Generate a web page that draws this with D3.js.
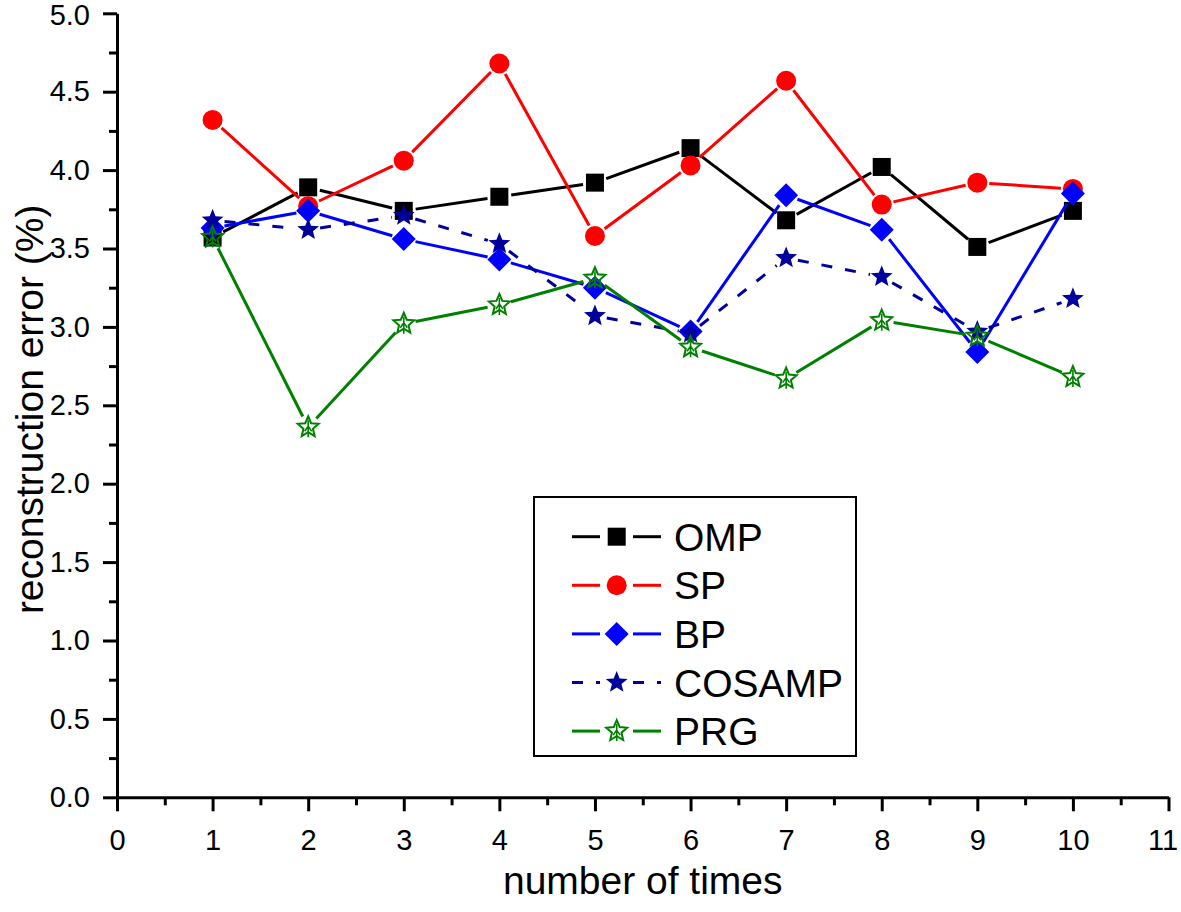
<!DOCTYPE html>
<html>
<head>
<meta charset="utf-8">
<script src="https://cdn.jsdelivr.net/npm/d3@7"></script>
<style>
  html, body { margin: 0; padding: 0; background: #fff; }
  svg { display: block; font-family: "Liberation Sans", Arial, sans-serif; }
</style>
</head>
<body>
<svg id="chart" width="1181" height="912"></svg>
<script>
const xValues = [1, 2, 3, 4, 5, 6, 7, 8, 9, 10];
const ompValues = [3.57, 3.89, 3.74, 3.83, 3.92, 4.14, 3.68, 4.02, 3.51, 3.74];
const spValues = [4.32, 3.77, 4.06, 4.68, 3.58, 4.03, 4.57, 3.78, 3.92, 3.88];
const bpValues = [3.63, 3.74, 3.56, 3.43, 3.25, 2.97, 3.84, 3.62, 2.84, 3.85];
const cosampValues = [3.68, 3.62, 3.71, 3.53, 3.07, 2.96, 3.44, 3.32, 2.97, 3.18];
const prgValues = [3.57, 2.36, 3.02, 3.14, 3.31, 2.87, 2.67, 3.04, 2.94, 2.68];
const seriesNames = ["OMP", "SP", "BP", "COSAMP", "PRG"];
const xTickValues = [0, 1, 2, 3, 4, 5, 6, 7, 8, 9, 10, 11];
const yTickValues = [0, 0.5, 1, 1.5, 2, 2.5, 3, 3.5, 4, 4.5, 5];

const series = [
  { name: seriesNames[0], values: ompValues, color: "#000000", marker: "square", dash: null },
  { name: seriesNames[1], values: spValues, color: "#ff0000", marker: "circle", dash: null },
  { name: seriesNames[2], values: bpValues, color: "#0000ff", marker: "diamond", dash: null },
  { name: seriesNames[3], values: cosampValues, color: "#00009c", marker: "star", dash: "11,13" },
  { name: seriesNames[4], values: prgValues, color: "#008000", marker: "openstar", dash: null }
];

const svg = d3.select("#chart");
const x = d3.scaleLinear().domain([0, 11]).range([117, 1168.5]);
const y = d3.scaleLinear().domain([0, 5]).range([797.3, 13.3]);

// Minor ticks
const xMinor = d3.range(0.5, 11, 1);
const yMinor = d3.range(0.25, 5, 0.5);

svg.append("g")
  .attr("transform", `translate(0,${y(0)})`)
  .call(d3.axisBottom(x).tickValues(xMinor).tickFormat("").tickSize(8).tickSizeOuter(0))
  .call(g => g.select(".domain").remove())
  .selectAll("line").attr("stroke", "#000").attr("stroke-width", 3);

svg.append("g")
  .attr("transform", `translate(${x(0)},0)`)
  .call(d3.axisLeft(y).tickValues(yMinor).tickFormat("").tickSize(8).tickSizeOuter(0))
  .call(g => g.select(".domain").remove())
  .selectAll("line").attr("stroke", "#000").attr("stroke-width", 3);

// Major axes
const xAxis = svg.append("g")
  .attr("transform", `translate(0,${y(0)})`)
  .call(d3.axisBottom(x).tickValues(xTickValues).tickFormat(d3.format("d")).tickSize(14).tickSizeOuter(0).tickPadding(18));
xAxis.select(".domain").attr("stroke", "#000").attr("stroke-width", 3);
xAxis.selectAll("line").attr("stroke", "#000").attr("stroke-width", 3);
xAxis.selectAll("text").attr("font-size", 29).attr("fill", "#000")
  .attr("font-family", "Liberation Sans, Arial, sans-serif")
  .attr("dx", d => d === 11 ? -6 : 0);

const yAxis = svg.append("g")
  .attr("transform", `translate(${x(0)},0)`)
  .call(d3.axisLeft(y).tickValues(yTickValues).tickFormat(d3.format(".1f")).tickSize(14).tickSizeOuter(0).tickPadding(13));
yAxis.select(".domain").attr("stroke", "#000").attr("stroke-width", 3);
yAxis.selectAll("line").attr("stroke", "#000").attr("stroke-width", 3);
yAxis.selectAll("text").attr("font-size", 29).attr("fill", "#000")
  .attr("font-family", "Liberation Sans, Arial, sans-serif")
  .attr("dy", d => d === 5 ? "0.38em" : "0.32em");

// Axis titles
svg.append("text")
  .attr("x", (x(0) + x(11)) / 2)
  .attr("y", 894)
  .attr("text-anchor", "middle")
  .attr("font-size", 39)
  .attr("fill", "#000")
  .text("number of times");

svg.append("text")
  .attr("transform", `translate(43,${(y(0) + y(5)) / 2 + 4}) rotate(-90)`)
  .attr("text-anchor", "middle")
  .attr("font-size", 39)
  .attr("fill", "#000")
  .text("reconstruction error (%)");

// Marker drawing
function starPath(R, r) {
  const pts = [];
  for (let i = 0; i < 10; i++) {
    const a = -Math.PI / 2 + i * Math.PI / 5;
    const rad = i % 2 === 0 ? R : r;
    pts.push([rad * Math.cos(a), rad * Math.sin(a)]);
  }
  return "M" + pts.map(p => p[0].toFixed(2) + "," + p[1].toFixed(2)).join("L") + "Z";
}

function drawMarker(g, type, color, cx, cy) {
  const m = g.append("g").attr("transform", `translate(${cx},${cy})`);
  if (type === "square") {
    m.append("rect").attr("x", -9).attr("y", -9).attr("width", 18).attr("height", 18).attr("fill", color);
  } else if (type === "circle") {
    m.append("circle").attr("r", 10).attr("fill", color);
  } else if (type === "diamond") {
    m.append("path").attr("d", "M0,-12L12,0L0,12L-12,0Z").attr("fill", color);
  } else if (type === "star") {
    m.append("path").attr("d", starPath(11.5, 5)).attr("fill", color);
  } else if (type === "openstar") {
    m.append("path").attr("d", starPath(11, 5)).attr("fill", "none").attr("stroke", color).attr("stroke-width", 2);
    m.append("path").attr("d", "M0,-7L0,10M0,-1L-3.5,4M0,-1L3.5,4")
      .attr("fill", "none").attr("stroke", color).attr("stroke-width", 1.6);
  }
}

// Series
const gap = 12;
series.forEach(s => {
  const g = svg.append("g");
  const pts = s.values.map((v, i) => [x(xValues[i]), y(v)]);
  for (let i = 0; i < pts.length - 1; i++) {
    const [x1, y1] = pts[i], [x2, y2] = pts[i + 1];
    const dx = x2 - x1, dy = y2 - y1, len = Math.hypot(dx, dy);
    if (len <= 2 * gap) continue;
    const ux = dx / len, uy = dy / len;
    const line = g.append("line")
      .attr("x1", x1 + ux * gap).attr("y1", y1 + uy * gap)
      .attr("x2", x2 - ux * gap).attr("y2", y2 - uy * gap)
      .attr("stroke", s.color).attr("stroke-width", 3);
    if (s.dash) line.attr("stroke-dasharray", s.dash);
  }
  pts.forEach(p => drawMarker(g, s.marker, s.color, p[0], p[1]));
});

// Legend
const legend = svg.append("g");
legend.append("rect")
  .attr("x", 534).attr("y", 497).attr("width", 322).attr("height", 259)
  .attr("fill", "#fff").attr("stroke", "#000").attr("stroke-width", 2);
series.forEach((s, i) => {
  const cy = 536.7 + i * 48.6;
  const lg = legend.append("g");
  const l1 = lg.append("line").attr("x1", 572).attr("x2", 600).attr("y1", cy).attr("y2", cy)
    .attr("stroke", s.color).attr("stroke-width", 3);
  const l2 = lg.append("line").attr("x1", 633).attr("x2", 661).attr("y1", cy).attr("y2", cy)
    .attr("stroke", s.color).attr("stroke-width", 3);
  if (s.dash) { l1.attr("stroke-dasharray", "11,13"); l2.attr("stroke-dasharray", "11,13"); }
  drawMarker(lg, s.marker, s.color, 616.7, cy);
  lg.append("text").attr("x", 674).attr("y", cy + 14)
    .attr("font-size", 39).attr("fill", "#000").text(s.name);
});
</script>
</body>
</html>
